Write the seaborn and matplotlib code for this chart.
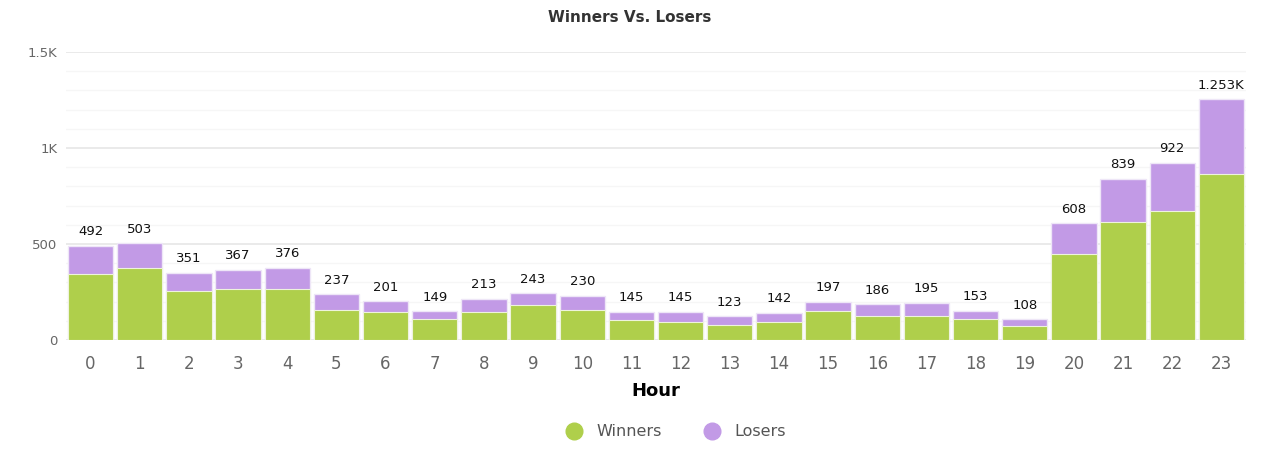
import numpy as np
import pandas as pd
import matplotlib
matplotlib.use("Agg")
import matplotlib.pyplot as plt
import seaborn as sns
from matplotlib.lines import Line2D
from matplotlib.ticker import FixedLocator, MultipleLocator

hours = list(range(24))
totals = [492, 503, 351, 367, 376, 237, 201, 149, 213, 243, 230, 145,
          145, 123, 142, 197, 186, 195, 153, 108, 608, 839, 922, 1253]
winners = [342, 373, 257, 264, 264, 155, 147, 108, 147, 181, 156, 103,
           94, 78, 94, 149, 125, 125, 109, 71, 446, 616, 670, 866]
losers = [t - w for t, w in zip(totals, winners)]

green = "#afcf4b"
purple = "#c29ae6"

df = pd.DataFrame({"Hour": hours, "Winners": winners, "Losers": losers, "Total": totals})

sns.set_style("white")
fig = plt.figure(figsize=(12.88, 4.74), dpi=100)
ax = fig.add_axes([66 / 1288, 1 - 340 / 474, 1180 / 1288, 288 / 474])

# losers stacked on winners: draw totals in purple, winners over them in green
sns.barplot(data=df, x="Hour", y="Total", color=purple, width=0.92,
            edgecolor="#eee6f7", linewidth=1, saturation=1, ax=ax, zorder=3)
sns.barplot(data=df, x="Hour", y="Winners", color=green, width=0.92,
            edgecolor="#eef3dd", linewidth=0.8, saturation=1, ax=ax, zorder=4)

ax.set_ylim(0, 1500)
ax.set_xlim(-0.5, 23.5)
ax.yaxis.set_major_locator(FixedLocator([0, 500, 1000, 1500]))
ax.yaxis.set_minor_locator(MultipleLocator(100))
ax.set_yticklabels(["0", "500", "1K", "1.5K"])
ax.grid(axis="y", which="major", color="#e6e6e6", linewidth=1.2, zorder=0)
ax.grid(axis="y", which="minor", color="#f6f6f6", linewidth=1, zorder=0)
ax.tick_params(axis="y", which="both", length=0, labelsize=9.5, labelcolor="#666666", pad=6)
ax.tick_params(axis="x", length=0, labelsize=12, labelcolor="#666666", pad=11)
for s in ax.spines.values():
    s.set_visible(False)

for i, t in enumerate(totals):
    lab = f"{t / 1000:.3f}K" if t >= 1000 else str(t)
    ax.text(i, t + 40, lab, ha="center", va="bottom", fontsize=9.5, color="#111111", zorder=5)

ax.set_xlabel("Hour", fontsize=13, fontweight="bold", color="black", labelpad=6)
ax.set_ylabel("")
fig.text(630 / 1288, 1 - 18 / 474, "Winners Vs. Losers", ha="center", va="center",
         fontsize=11, fontweight="bold", color="#333333")

handles = [Line2D([], [], marker="o", linestyle="", markersize=12, color=green),
           Line2D([], [], marker="o", linestyle="", markersize=12, color=purple)]
fig.legend(handles, ["Winners", "Losers"], loc="center", bbox_to_anchor=(672 / 1288, 1 - 432 / 474),
           ncol=2, frameon=False, fontsize=11.5, labelcolor="#555555",
           handletextpad=0.4, columnspacing=2.2)

fig.savefig("out.png", dpi=100)
